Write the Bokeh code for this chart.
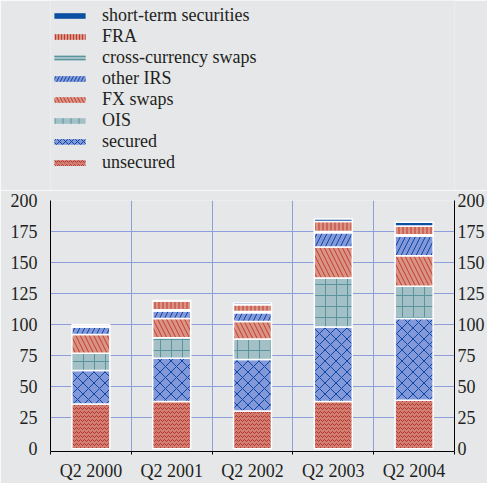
from bokeh.plotting import figure
from bokeh.layouts import column
from bokeh.models import (ColumnDataSource, Range1d, FixedTicker, LinearAxis,
                          Legend, LegendItem)
from bokeh.embed import file_html
from bokeh.resources import INLINE

# ---------------- data ----------------
categories = ["Q2 2000", "Q2 2001", "Q2 2002", "Q2 2003", "Q2 2004"]
unsecured = [36, 38, 30.5, 38, 39]
secured = [27, 35, 41.5, 60, 66]
ois = [14, 16.5, 16.5, 39.5, 26]
fx_swaps = [15, 15.5, 14, 25, 24.5]
other_irs = [6, 6, 7, 11.5, 16]
cross_currency_swaps = [0.5, 1, 1, 1, 1]
fra = [1.5, 7, 5.5, 8, 7]
short_term_securities = [0, 0.5, 1.5, 2, 3]
y_ticks = [0, 25, 50, 75, 100, 125, 150, 175, 200]

series_keys = ["unsecured", "secured", "ois", "fx", "irs", "ccs", "fra", "sts"]
series_labels = ["unsecured", "secured", "OIS", "FX swaps", "other IRS",
                 "cross-currency swaps", "FRA", "short-term securities"]

# ---------------- styles ----------------
BG = "#e6e7e9"
GRID = "#8e9edb"
TXT = "#231f20"
FONT = "Liberation Serif"
FS = "18px"
fills = ["#d27d72", "#8298d9", "#a3c0c7", "#da9485", "#8298d9", "#a3c0c7", "#da9485", "#0b4fa3"]
hatches = ["v", "x", "+", "\\", "/", "-", "|", " "]
hcolors = ["#b3342b", "#0b47a3", "#5a959e", "#bf3a2f", "#0b47a3", "#5a959e", "#bf3a2f", "#0b4fa3"]
hscales = [4, 11, 11, 9, 10, 3, 4, 4]
legend_hscales = [4, 6, 8, 7, 7, 3, 3, 4]
legend_hatches = ["v", "x", "|", "\\", "/", "-", "|", " "]

xpos = [i + 0.5 for i in range(len(categories))]
src = ColumnDataSource(dict(
    x=xpos, unsecured=unsecured, secured=secured, ois=ois, fx=fx_swaps,
    irs=other_irs, ccs=cross_currency_swaps, fra=fra, sts=short_term_securities))

# ---------------- legend figure ----------------
lf = figure(width=487, height=190, output_backend="svg", toolbar_location=None,
            x_range=Range1d(0, 1), y_range=Range1d(0, 1),
            min_border=0, x_axis_type=None, y_axis_type=None)
lf.background_fill_color = BG
lf.border_fill_color = BG
lf.outline_line_color = None
lf.grid.visible = False
# off-screen placeholder glyphs: only used to draw the legend swatches
dummy = ColumnDataSource(dict(x=[-5], top=[0]))
lrs = []
for i in range(len(series_keys)):
    lrs.append(lf.vbar(x="x", top="top", width=0.5, source=dummy,
                       fill_color=fills[i], hatch_pattern=legend_hatches[i],
                       hatch_color=hcolors[i], hatch_scale=legend_hscales[i],
                       hatch_weight=1.0, line_color=None))
items = [LegendItem(label=lab, renderers=[r])
         for lab, r in zip(series_labels, lrs)][::-1]
legend = Legend(items=items, location=(0, 17), orientation="vertical",
                padding=0, margin=0, spacing=0, glyph_width=39, glyph_height=7,
                label_height=18, label_standoff=13,
                label_text_font=FONT, label_text_font_size=FS,
                label_text_color=TXT, background_fill_alpha=0,
                border_line_color=None)
lf.add_layout(legend)

# ---------------- main chart ----------------
p = figure(width=487, height=293, output_backend="svg", toolbar_location=None,
           x_range=Range1d(0, len(categories)), y_range=Range1d(-2.2, 200),
           min_border_left=50, min_border_right=0, min_border_top=10,
           min_border_bottom=30)
p.background_fill_color = BG
p.border_fill_color = BG
p.outline_line_color = None

renderers = p.vbar_stack(series_keys, x="x", width=0.47, source=src,
                         fill_color=fills, hatch_pattern=hatches,
                         hatch_color=hcolors, hatch_scale=hscales,
                         hatch_weight=1.0, line_color="white", line_width=1.5)

xa = p.xaxis[0]
xa.ticker = FixedTicker(ticks=xpos, minor_ticks=list(range(len(categories) + 1)))
xa.major_label_overrides = {x: c for x, c in zip(xpos, categories)}
xa.major_tick_line_color = None
xa.major_tick_out = 0
xa.major_tick_in = 0
xa.minor_tick_line_color = "black"
xa.minor_tick_out = 3
xa.minor_tick_in = 0
xa.axis_line_color = "black"
xa.major_label_standoff = 6
xa.major_label_text_font = FONT
xa.major_label_text_font_size = FS
xa.major_label_text_color = TXT

ya = p.yaxis[0]
ya.ticker = FixedTicker(ticks=y_ticks)
ya.major_tick_line_color = None
ya.minor_tick_line_color = None
ya.major_tick_out = 0
ya.axis_line_color = "black"
ya.major_label_standoff = 13
ya.major_label_text_font = FONT
ya.major_label_text_font_size = FS
ya.major_label_text_color = TXT

ra = LinearAxis(ticker=FixedTicker(ticks=y_ticks))
ra.major_tick_line_color = None
ra.minor_tick_line_color = None
ra.major_tick_out = 0
ra.major_label_standoff = 3
ra.axis_line_color = "black"
ra.major_label_text_font = FONT
ra.major_label_text_font_size = FS
ra.major_label_text_color = TXT
p.add_layout(ra, "right")

p.ygrid.ticker = FixedTicker(ticks=y_ticks[1:])
p.xgrid.ticker = FixedTicker(ticks=list(range(1, len(categories))))
p.grid.grid_line_color = GRID
p.grid.grid_line_width = 1

layout = column(lf, p, spacing=0)
html = file_html(layout, INLINE)
html = html.replace("<body>", '<body style="background-color:%s;">' % BG, 1)
open("out.html", "w").write(html)
